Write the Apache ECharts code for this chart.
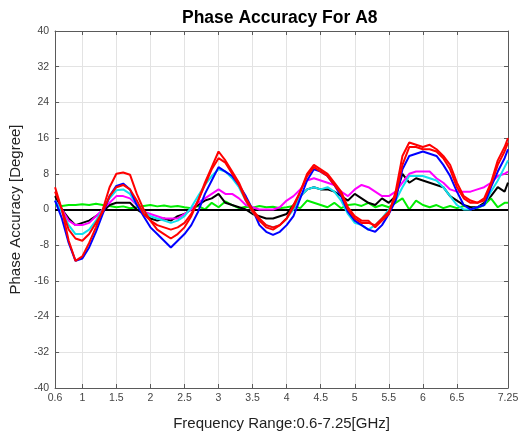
<!DOCTYPE html>
<html>
<head>
<meta charset="utf-8">
<script src="https://cdn.jsdelivr.net/npm/echarts@6/dist/echarts.min.js"></script>
<style>
html,body{margin:0;padding:0;background:#fff;}
#chart{width:525px;height:436px;}
</style>
</head>
<body>
<div id="chart"></div>
<script>
// Frequencies (GHz)
var freq = [0.6,0.7,0.8,0.9,1.0,1.1,1.2,1.3,1.4,1.5,1.6,1.7,1.8,1.9,2.0,2.1,2.2,2.3,2.4,2.5,2.6,2.7,2.8,2.9,3.0,3.1,3.2,3.3,3.4,3.5,3.6,3.7,3.8,3.9,4.0,4.1,4.2,4.3,4.4,4.5,4.6,4.7,4.8,4.9,5.0,5.1,5.2,5.3,5.4,5.5,5.6,5.7,5.8,5.9,6.0,6.1,6.2,6.3,6.4,6.5,6.6,6.7,6.8,6.9,7.0,7.1,7.2,7.25];
var xTicks = [0.6,1,1.5,2,2.5,3,3.5,4,4.5,5,5.5,6,6.5,7.25];

var redA = [5,0,-7,-11.5,-10.5,-7.5,-4,0,5,8,8.3,7.8,3.5,0,-2.5,-4.5,-5.5,-6.5,-5.5,-4,-1.5,2,6,9.5,13,11,8.5,6,2.5,0,-2,-3.5,-4,-3.5,-2,1,4,8,10,9,8,6,4,0.5,-1.5,-2.5,-2.5,-4,-2.5,-1,4,12,15,14.5,14,14.5,13.5,12,10,6,3,2,1.5,2.5,6,11,14,16];
var redB = [4,0,-4.5,-6.5,-7,-5.5,-3,-0.5,3,5,5.5,4.5,2,-1,-2.5,-3.5,-4,-4.5,-4,-3,-1,2,5.5,9,11.5,10.5,8,5.5,2,-0.5,-2.5,-4,-4.5,-3.5,-2,0.5,4,7.5,9.5,8.5,7.5,5.5,3.5,0,-2,-3,-3,-3.5,-2,-0.5,3,10,14,14,13.5,13.5,13,11.5,9,5,2.5,1.5,1.5,2,5.5,10,13,15];
var blue = [2,-2,-7.5,-11.5,-11,-8.5,-5,-1,3,5.3,5.8,4.5,1,-1.5,-4,-5.5,-7,-8.5,-7,-5.5,-3.5,-0.5,3.5,6.5,9.5,8.5,7.5,5.5,3,0,-3.5,-5,-5.7,-5,-3.5,-1.5,2.5,6.5,9,8.5,7.5,5.5,3,-0.5,-2.5,-3.5,-4.5,-5,-3.5,-1,2,9,12,12.5,13,12.5,12,10,7.5,4,1,0,0.5,1,5,8.5,11.5,13.5];
var cyan = [2,-0.5,-3.5,-5.5,-5.5,-4.5,-2.5,0,2.5,4.3,4.5,3.5,1,-0.5,-1.5,-2,-2.5,-3,-2.5,-1.5,0.5,3,5.5,7.5,9,8.5,7,5,2,-0.5,-2.5,-3.5,-4,-3.5,-2,0,3,4.5,5,4.5,5,4,2,-1,-3,-3.5,-4.5,-3.5,-2,0,2,5,7.5,7.5,7.5,7,6.5,5,3,1,0,0,0.5,1,4,6.5,9.5,11];
var magenta = [2,0,-2.5,-3.5,-3.5,-3,-1.5,0,1.5,3,3,2.5,1,-0.5,-1,-1.5,-2,-2,-2,-1,0,1.5,2.5,3.5,4.5,3.5,3.5,2.5,1,0.5,0,0,0,0.5,2,3,4.5,6.5,7,6.5,6,5.5,4,3,4.5,5.5,5,4,3,3,4,6,8,8.5,8.5,8.5,7,6,4.5,4,4,4,4.5,5,6,7.5,8,8.5];
var black = [3,0,-2,-3.5,-3,-2.5,-1.5,-0.5,1,1.5,1.5,1.5,0,-1,-2,-2.5,-2,-2.5,-1.5,-1,0,1,2,2.5,3.5,1.5,1,0.5,0,-1,-1.5,-2,-2,-1.5,-1,1,3,4.5,5,4.5,4.5,4,3,2,3.5,2.5,1.5,1,2.5,1.5,3,8,6,7,6.5,6,5.5,5,3,2,1,0.5,0.5,1.5,3,5,4,6];
var green = [1,0.8,1,1,1.2,1,1.3,1,0.8,0.5,0.7,0.3,0.5,0.8,1,0.7,0.9,0.6,0.8,0.5,0.3,0.8,0,1.5,0.5,1.8,1,0.3,0.6,0.4,0.8,0.5,0.6,0.3,0.5,0.8,0.3,2,1.5,1,0.5,1.5,0.3,1,1.2,0.8,1.5,0.5,1,0.5,1.5,2.5,0,2,1,0.5,1,0.3,0.8,0.3,0.8,0.5,0.3,1,2.5,0.5,1.5,1.5];

function pairs(vals){ return freq.map(function(f,i){ return [f, vals[i]]; }); }
function line(name, color, vals, z){
  return {name:name, type:'line', data:pairs(vals), showSymbol:false, symbol:'none',
    lineStyle:{color:color, width:2}, itemStyle:{color:color}, z:z, animation:false};
}

var chart = echarts.init(document.getElementById('chart'), null, {renderer:'canvas'});
var font = 'Liberation Sans, Arial, sans-serif';
var axisColor = '#5a5a5a';
chart.setOption({
  animation:false,
  backgroundColor:'#ffffff',
  title:{text:'Phase Accuracy For A8', left:177, top:4,
    textStyle:{fontFamily:font, fontSize:17.5, fontWeight:'bold', color:'#000'}},
  grid:{left:53, right:17, top:31, bottom:45},
  xAxis:[{
    type:'value', min:0.6, max:7.25,
    name:'Frequency Range:0.6-7.25[GHz]', nameLocation:'middle', nameGap:28,
    nameTextStyle:{fontFamily:font, fontSize:15, color:'#222'},
    axisLine:{show:true, onZero:false, lineStyle:{color:axisColor, width:1}},
    axisTick:{show:true, inside:true, length:4, customValues:xTicks, lineStyle:{color:axisColor}},
    axisLabel:{customValues:xTicks, fontFamily:font, fontSize:10.5, color:'#444', margin:5,
      formatter:function(v){ return String(v); }},
    splitLine:{show:true, lineStyle:{color:'#e3e3e3', width:1}}
  },{
    type:'value', min:0.6, max:7.25, position:'top',
    axisLine:{show:true, onZero:false, lineStyle:{color:axisColor, width:1}},
    axisTick:{show:true, inside:true, length:4, customValues:xTicks, lineStyle:{color:axisColor}},
    axisLabel:{show:false}, splitLine:{show:false}
  }],
  yAxis:[{
    type:'value', min:-40, max:40, interval:8,
    name:'Phase Accuracy [Degree]', nameLocation:'middle', nameGap:18, nameRotate:90,
    nameTextStyle:{fontFamily:font, fontSize:15, color:'#222'},
    axisLine:{show:true, onZero:false, lineStyle:{color:axisColor, width:1}},
    axisTick:{show:true, inside:true, length:4, lineStyle:{color:axisColor}},
    axisLabel:{fontFamily:font, fontSize:10.5, color:'#444', margin:6},
    splitLine:{show:true, lineStyle:{color:'#e3e3e3', width:1}}
  },{
    type:'value', min:-40, max:40, interval:8, position:'right',
    axisLine:{show:true, onZero:false, lineStyle:{color:axisColor, width:1}},
    axisTick:{show:true, inside:true, length:4, lineStyle:{color:axisColor}},
    axisLabel:{show:false}, splitLine:{show:false}
  }],
  series:[
    Object.assign(line('Green', '#00ee00', green, 3), {
      markLine:{silent:true, symbol:'none', label:{show:false},
        lineStyle:{color:'#000', width:2, type:'solid'}, data:[{yAxis:0}], z:4}
    }),
    line('Black', '#000000', black, 5),
    line('Magenta', '#ff00ff', magenta, 6),
    line('Cyan', '#10e0ec', cyan, 7),
    line('Blue', '#0000ff', blue, 8),
    line('Red B', '#ff0000', redB, 9),
    line('Red A', '#ff0000', redA, 10)
  ]
});
</script>
</body>
</html>
